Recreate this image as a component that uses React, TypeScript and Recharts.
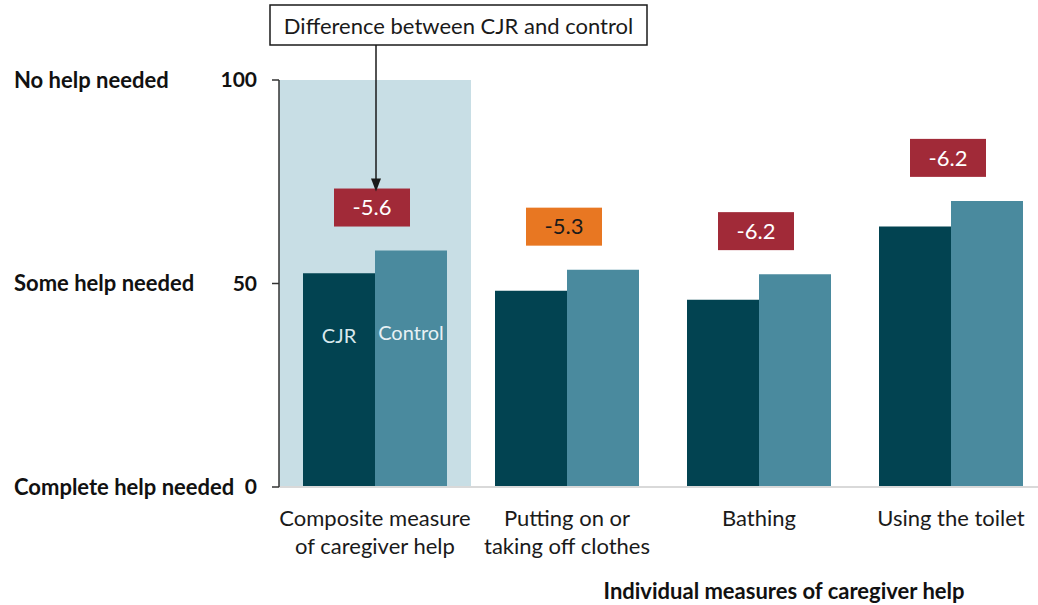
import React from 'react';
import { BarChart, Bar, XAxis, YAxis, ReferenceArea, LabelList } from 'recharts';

const categories = [
  'Composite measure\nof caregiver help',
  'Putting on or\ntaking off clothes',
  'Bathing',
  'Using the toilet',
];
const cjrValues = [52.5, 48.2, 46.0, 64.0];
const controlValues = [58.1, 53.4, 52.3, 70.3];
const differences = [-5.6, -5.3, -6.2, -6.2];
const differenceLevels = ['strong', 'moderate', 'strong', 'strong'];
const yTicks = [0, 50, 100];
const yTickLabels = ['Complete help needed', 'Some help needed', 'No help needed'];
const seriesNames = ['CJR', 'Control'];
const annotationText = 'Difference between CJR and control';
const xAxisTitle = 'Individual measures of caregiver help';

const FONT = 'Lato, "Open Sans", sans-serif';
const COLORS = {
  cjr: '#024351',
  control: '#4A8A9E',
  band: '#C8DEE5',
  strong: '#A12A38',
  moderate: '#E87722',
};

const data = categories.map((c, i) => ({
  category: c,
  cjr: cjrValues[i],
  control: controlValues[i],
  diff: differences[i],
}));

const YTick = (props: any) => {
  const { x, y, payload } = props;
  const idx = yTicks.indexOf(payload.value);
  return (
    <g fontFamily={FONT} fontWeight={700} fontSize={22} fill="#111">
      <text x={14} y={y} dy="0.35em" textAnchor="start" fill="#111">
        {yTickLabels[idx]}
      </text>
      <text x={x} y={y} dy="0.35em" textAnchor="end" fill="#111" fontSize={21}>
        {payload.value}
      </text>
    </g>
  );
};

const XTick = (props: any) => {
  const { x, y, payload } = props;
  const lines = String(payload.value).split('\n');
  return (
    <text x={x} y={y} textAnchor="middle" fontFamily={FONT} fontSize={22} fill="#1a1a1a">
      {lines.map((l, i) => (
        <tspan key={i} x={x} dy={i === 0 ? 31 : 28}>
          {l}
        </tspan>
      ))}
    </text>
  );
};

const getBox = (props: any) => {
  const vb = props.viewBox || {};
  const x = props.x ?? vb.x;
  const y = props.y ?? vb.y;
  const width = props.width ?? vb.width;
  const height = props.height ?? vb.height;
  return { x: Number(x), y: Number(y), width: Number(width), height: Number(height) };
};

const DiffLabel = (props: any) => {
  const { index, value } = props;
  const b = getBox(props);
  const cx = b.x - 3;
  const w = 76;
  const h = 38;
  const top = b.y - 24 - h;
  const level = differenceLevels[index];
  const fill = level === 'strong' ? COLORS.strong : COLORS.moderate;
  const textFill = level === 'strong' ? '#ffffff' : '#1a1a1a';
  return (
    <g>
      <rect x={cx - w / 2} y={top} width={w} height={h} fill={fill} />
      <text
        x={cx}
        y={top + h / 2}
        dy="0.35em"
        textAnchor="middle"
        fontFamily={FONT}
        fontSize={22}
        fill={textFill}
      >
        {value}
      </text>
      {index === 0 && (
        <g>
          <rect x={b.x - 105} y={5} width={377} height={40} fill="#fff" stroke="#1a1a1a" strokeWidth={1.5} />
          <text
            x={b.x - 105 + 377 / 2}
            y={26}
            dy="0.35em"
            textAnchor="middle"
            fontFamily={FONT}
            fontSize={22}
            fill="#1a1a1a"
          >
            {annotationText}
          </text>
          <line x1={b.x + 1} y1={45} x2={b.x + 1} y2={top - 8} stroke="#1a1a1a" strokeWidth={1.5} />
          <polygon
            points={`${b.x - 4},${top - 10} ${b.x + 6},${top - 10} ${b.x + 1},${top + 3}`}
            fill="#1a1a1a"
          />
        </g>
      )}
    </g>
  );
};

const makeSeriesLabel = (name: string, color: string, offset: number) => (props: any) => {
  const { index } = props;
  if (index !== 0) return null;
  const b = getBox(props);
  return (
    <text
      x={b.x + b.width / 2}
      y={b.y + b.height - offset}
      dy="0.35em"
      textAnchor="middle"
      fontFamily={FONT}
      fontSize={20}
      fill={color}
    >
      {name}
    </text>
  );
};

const XTitle = (props: any) => {
  const vb = props.viewBox || {};
  return (
    <text
      x={vb.x + vb.width * 0.6576}
      y={591}
      dy="0.35em"
      textAnchor="middle"
      fontFamily={FONT}
      fontWeight={700}
      fontSize={22}
      fill="#111"
    >
      {xAxisTitle}
    </text>
  );
};

export default function App() {
  return (
    <div
      style={{
        position: 'absolute',
        left: 0,
        top: 0,
        width: 1038,
        height: 605,
        overflow: 'hidden',
        background: '#fff',
      }}
    >
      <BarChart
        width={1060}
        height={605}
        data={data}
        margin={{ top: 80, right: 13, bottom: 0, left: 0 }}
        barGap={0}
        barCategoryGap="12.5%"
      >
        <ReferenceArea
          x1={categories[0]}
          x2={categories[0]}
          y1={0}
          y2={100}
          fill={COLORS.band}
          fillOpacity={1}
          stroke="none"
        />
        <XAxis
          dataKey="category"
          height={118}
          tickLine={false}
          axisLine={{ stroke: '#D9D9D9', strokeWidth: 2 }}
          tick={<XTick />}
          interval={0}
          label={<XTitle />}
        />
        <YAxis
          width={279}
          domain={[0, 100]}
          ticks={yTicks}
          interval={0}
          tickSize={7}
          tickMargin={15}
          axisLine={{ stroke: '#333', strokeWidth: 1.5 }}
          tickLine={{ stroke: '#333', strokeWidth: 1.5 }}
          tick={<YTick />}
        />
        <Bar dataKey="cjr" name={seriesNames[0]} fill={COLORS.cjr} isAnimationActive={false}>
          <LabelList dataKey="cjr" content={makeSeriesLabel(seriesNames[0], '#d8e8ec', 151)} />
        </Bar>
        <Bar dataKey="control" name={seriesNames[1]} fill={COLORS.control} isAnimationActive={false}>
          <LabelList dataKey="control" content={makeSeriesLabel(seriesNames[1], '#e8f1f4', 154)} />
          <LabelList dataKey="diff" content={<DiffLabel />} />
        </Bar>
      </BarChart>
    </div>
  );
}
